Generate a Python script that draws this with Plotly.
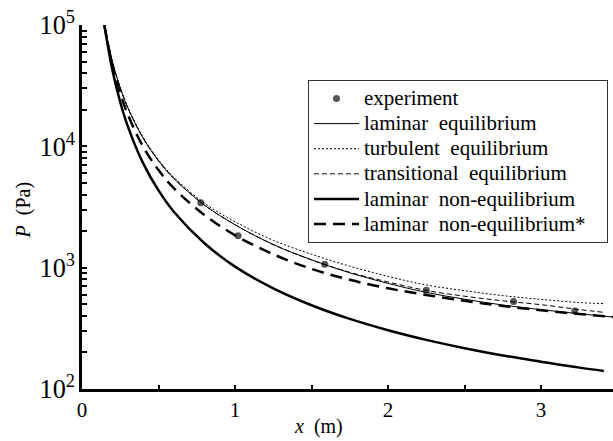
import plotly.graph_objects as go

# ---- data ----
x_grid = [0.146, 0.2, 0.25, 0.3, 0.4, 0.5, 0.6, 0.8, 1.0, 1.25, 1.5, 1.75, 2.0, 2.25, 2.5, 2.75, 3.0, 3.25, 3.47]
lam_eq = [100000, 49100, 30300, 20700, 11650, 7600, 5430, 3280, 2260, 1550, 1160, 906, 742, 625, 550, 492, 451, 417, 392]
lam_noneq_star = [100000, 45900, 27300, 18200, 9900, 6370, 4520, 2720, 1850, 1290, 977, 794, 676, 596, 533, 484, 445, 415, 393]

x_short = [0.146, 0.2, 0.25, 0.3, 0.4, 0.5, 0.6, 0.8, 1.0, 1.25, 1.5, 1.75, 2.0, 2.25, 2.5, 2.75, 3.0, 3.25, 3.41]
turb_eq = [100000, 49400, 30500, 20950, 11810, 7745, 5560, 3400, 2390, 1680, 1290, 1028, 848, 720, 646, 588, 548, 516, 505]
trans_eq = [100000, 49100, 30300, 20700, 11650, 7600, 5430, 3280, 2260, 1550, 1160, 916, 762, 649, 582, 533, 495, 452, 428]
lam_noneq = [100000, 41700, 23100, 14550, 7240, 4330, 2890, 1590, 1020, 675, 490, 378, 305, 254, 217, 189, 168, 150, 141]

exp_x = [0.776, 1.02, 1.586, 2.25, 2.82, 3.22]
exp_p = [3430, 1830, 1065, 650, 527, 440]

series_names = ["experiment", "laminar  equilibrium", "turbulent  equilibrium",
                 "transitional  equilibrium", "laminar  non-equilibrium",
                 "laminar  non-equilibrium*"]

FONT = "Liberation Serif"


def lg(name):
    return ('<span style="font-size:21px">' + name.replace("  ", "\u00a0 ")
            + "\u00a0\u00a0\u00a0</span>")


fig = go.Figure()
fig.add_trace(go.Scatter(x=exp_x, y=exp_p, mode="markers", name=lg(series_names[0]),
                         marker=dict(color="#555555", size=7)))
fig.add_trace(go.Scatter(x=x_grid, y=lam_eq, mode="lines", name=lg(series_names[1]),
                         line=dict(color="black", width=1, shape="spline")))
fig.add_trace(go.Scatter(x=x_short, y=turb_eq, mode="lines", name=lg(series_names[2]),
                         line=dict(color="black", width=1, dash="2px,2px", shape="spline")))
fig.add_trace(go.Scatter(x=x_short, y=trans_eq, mode="lines", name=lg(series_names[3]),
                         line=dict(color="black", width=1, dash="5px,3px", shape="spline")))
fig.add_trace(go.Scatter(x=x_short, y=lam_noneq, mode="lines", name=lg(series_names[4]),
                         line=dict(color="black", width=2.5, shape="spline")))
fig.add_trace(go.Scatter(x=x_grid, y=lam_noneq_star, mode="lines", name=lg(series_names[5]),
                         line=dict(color="black", width=2.5, dash="12px,7px", shape="spline")))

fig.update_layout(
    width=613, height=441,
    margin=dict(l=82, r=0, t=25, b=52),
    paper_bgcolor="white", plot_bgcolor="white",
    font=dict(family=FONT, color="black", size=20),
    showlegend=True,
    legend=dict(x=0.4256, y=0.849, xanchor="left", yanchor="top",
                bordercolor="#333333", borderwidth=1, bgcolor="white",
                font=dict(family=FONT, size=17), itemwidth=45, tracegroupgap=0),
    xaxis=dict(range=[0, 3.47], dtick=1, tick0=0, ticks="inside", ticklen=4, tickwidth=2,
               tickcolor="black", showline=True, linecolor="black", linewidth=2.5,
               showgrid=False, zeroline=False, tickfont=dict(size=21, family=FONT),
               minor=dict(dtick=0.5, ticks="inside", ticklen=4, tickwidth=2, tickcolor="black",
                          showgrid=False)),
    yaxis=dict(type="log", range=[2, 5], dtick=1, exponentformat="power", ticks="inside",
               ticklen=5, tickwidth=2, tickcolor="black", showline=True, linecolor="black",
               linewidth=2.5, showgrid=False, zeroline=False,
               tickfont=dict(size=21, family=FONT),
               minor=dict(dtick="D1", ticks="inside", ticklen=5, tickwidth=2,
                          tickcolor="black", showgrid=False)),
    annotations=[
        dict(text="<i>x</i>  (m)", x=0.446, y=-0.104, xref="paper", yref="paper",
             xanchor="center", yanchor="middle", showarrow=False, font=dict(size=20, family=FONT)),
        dict(text="<i>P</i>  (Pa)", x=-0.11, y=0.492, xref="paper", yref="paper",
             xanchor="center", yanchor="middle", textangle=-90, showarrow=False,
             font=dict(size=20, family=FONT)),
    ],
)

fig.write_html("out.html")
